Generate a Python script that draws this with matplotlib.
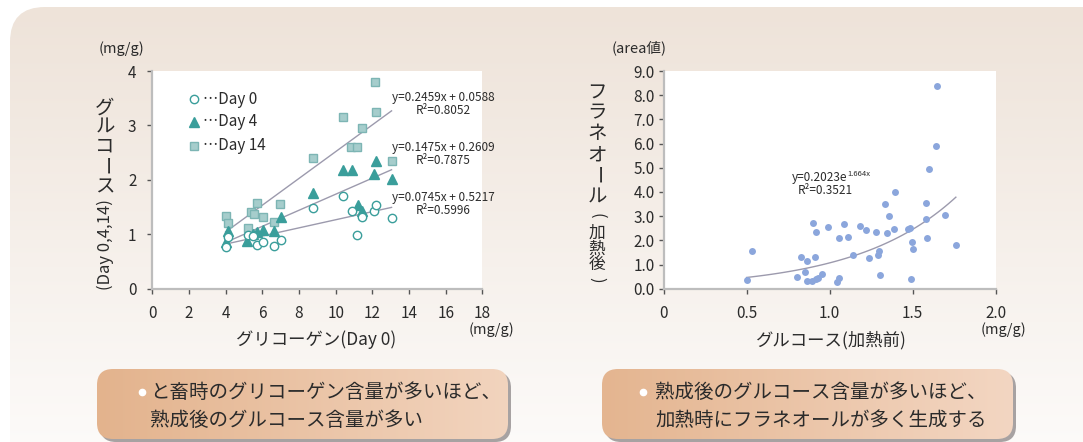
import numpy as np
import matplotlib
matplotlib.use("Agg")
import matplotlib.pyplot as plt
from matplotlib.patches import FancyBboxPatch

plt.rcParams['font.family'] = ['Noto Sans CJK JP', 'DejaVu Sans']

# グリコーゲン(Day 0) と グルコース(Day 0, 4, 14)
day0_x = [4.0, 4.15, 5.2, 5.5, 5.73, 6.05, 6.65, 7.0, 8.78, 10.38, 10.87, 11.18, 11.45, 12.11, 12.2, 13.05]
day0_y = [0.77, 0.95, 0.98, 0.96, 0.81, 0.85, 0.79, 0.90, 1.48, 1.70, 1.43, 0.99, 1.31, 1.42, 1.53, 1.30]
day4_x = [4.0, 4.15, 5.18, 5.51, 5.73, 6.05, 6.65, 7.0, 8.78, 10.38, 10.87, 11.2, 11.45, 12.11, 12.2, 13.05]
day4_y = [0.86, 1.06, 0.88, 1.0, 1.05, 1.08, 1.06, 1.32, 1.75, 2.19, 2.18, 1.53, 1.43, 2.10, 2.34, 2.02]
day14_x = [4.04, 4.15, 5.24, 5.38, 5.56, 5.73, 6.05, 6.65, 6.96, 8.78, 10.38, 10.84, 11.18, 11.45, 12.16, 12.2, 13.09]
day14_y = [1.34, 1.20, 1.12, 1.41, 1.37, 1.57, 1.32, 1.23, 1.55, 2.40, 3.15, 2.60, 2.60, 2.96, 3.80, 3.24, 2.35]

# 近似直線 (傾き, 切片, R²)
fits = [(0.2459, 0.0588, 0.8052), (0.1475, 0.2609, 0.7875), (0.0745, 0.5217, 0.5996)]

# グルコース(加熱前) と フラネオール(加熱後)
glc_x = [0.504, 0.532, 0.801, 0.827, 0.849, 0.861, 0.861, 0.894, 0.902, 0.912, 0.916, 0.920,
         0.928, 0.954, 0.992, 1.046, 1.058, 1.054, 1.088, 1.110, 1.141, 1.181, 1.217, 1.235,
         1.277, 1.289, 1.297, 1.305, 1.335, 1.347, 1.357, 1.388, 1.396, 1.472, 1.482, 1.490,
         1.496, 1.502, 1.582, 1.582, 1.584, 1.598, 1.641, 1.649, 1.697, 1.761]
fur_y = [0.34, 1.57, 0.48, 1.30, 0.70, 1.13, 0.32, 0.33, 2.70, 1.30, 0.39, 2.33,
         0.43, 0.62, 2.55, 0.28, 0.44, 2.08, 2.69, 2.14, 1.39, 2.60, 2.41, 1.28,
         2.34, 1.39, 1.54, 0.58, 3.50, 2.30, 3.00, 2.48, 4.00, 2.45, 2.52, 0.41,
         1.92, 1.63, 3.56, 2.88, 2.11, 4.96, 5.90, 8.38, 3.03, 1.79]
exp_a, exp_b, exp_r2 = 0.2023, 1.664, 0.3521

W, H = 1083, 442
fig = plt.figure(figsize=(W / 100, H / 100), dpi=100)
fig.patch.set_facecolor('white')

# 背景用の軸 (ピクセル座標)
bg = fig.add_axes([0, 0, 1, 1], zorder=-1)
bg.axis('off')


def set_px(ax):
    ax.set_xlim(0, W)
    ax.set_ylim(H, 0)


def gradient_box(ax, x0, y0, w, h, r, c0, c1, vertical=True, z=0):
    patch = FancyBboxPatch((x0, y0), w, h, boxstyle=f"round,pad=0,rounding_size={r}",
                           fc='none', ec='none', zorder=z)
    ax.add_patch(patch)
    t = np.linspace(0, 1, 256)
    c0 = np.array(matplotlib.colors.to_rgb(c0))
    c1 = np.array(matplotlib.colors.to_rgb(c1))
    grad = c0[None, :] * (1 - t[:, None]) + c1[None, :] * t[:, None]
    img = grad[:, None, :] if vertical else grad[None, :, :]
    im = ax.imshow(img, extent=(x0, x0 + w, y0 + h, y0), aspect='auto',
                   zorder=z, interpolation='bilinear')
    im.set_clip_path(patch)
    return patch


# 全体の背景パネル
gradient_box(bg, 10, 7, 1120, 520, 35, '#eee3d9', '#ffffff', vertical=True, z=0)

# 下部のまとめボックス
for bx, c0, c1 in [(97, '#e3b38d', '#f2d4be'), (602, '#e4b590', '#f3d6c2')]:
    shadow = FancyBboxPatch((bx + 3, 372), 411, 70, boxstyle="round,pad=0,rounding_size=16",
                            fc='#a7a2a2', ec='none', zorder=1)
    bg.add_patch(shadow)
    gradient_box(bg, bx, 369, 411, 70, 16, c0, c1, vertical=False, z=2)
set_px(bg)

box_txt = dict(fontsize=14, color='#2b2b2b', va='center', ha='left', zorder=5)
bg.plot([142], [392], 'o', ms=4.5, color='white', zorder=5)
bg.text(150, 393, 'と畜時のグリコーゲン含量が多いほど、', **box_txt)
bg.text(150, 420, '熟成後のグルコース含量が多い', **box_txt)
bg.plot([643], [392], 'o', ms=4.5, color='white', zorder=5)
bg.text(655, 393, '熟成後のグルコース含量が多いほど、', **box_txt)
bg.text(655, 420, '加熱時にフラネオールが多く生成する', **box_txt)

# 軸ラベル類
lab = dict(color='#2b2b2b', ha='center', va='center')
bg.text(122, 49, '(mg/g)', fontsize=10.5, **lab)
bg.text(639, 48, '(area値)', fontsize=10.5, **lab)
bg.text(316, 340, 'グリコーゲン(Day 0)', fontsize=12.5, **lab)
bg.text(491, 330, '(mg/g)', fontsize=10.5, **lab)
bg.text(831, 340, 'グルコース(加熱前)', fontsize=12.5, **lab)
bg.text(1003, 330, '(mg/g)', fontsize=10.5, **lab)

# 縦書きラベル
for ch, yy in zip('グルコース', [108, 127, 146, 167, 187]):
    bg.text(105, yy, ch, fontsize=14, rotation=-90 if ch == 'ー' else 0, **lab)
bg.text(105, 245, '(Day 0,4,14)', fontsize=12, rotation=90, **lab)

for ch, yy in zip('フラネオール', [93, 113, 134, 155, 176, 197]):
    bg.text(597, yy, ch, fontsize=14, rotation=-90 if ch == 'ー' else 0, **lab)
for ch, yy in zip('(加熱後)', [216, 233, 249, 265, 280]):
    bg.text(597, yy, ch, fontsize=12, rotation=-90 if ch in '()' else 0, **lab)


def style_axes(ax):
    ax.set_facecolor('white')
    for s in ['top', 'right']:
        ax.spines[s].set_visible(False)
    for s in ['left', 'bottom']:
        ax.spines[s].set_color('#bdbdbd')
        ax.spines[s].set_linewidth(1.6)
    ax.tick_params(direction='out', length=3.5, width=1, color='#555555',
                   labelsize=11, labelcolor='#2b2b2b')


# 左: グリコーゲン vs グルコース
ax1 = fig.add_axes([152.3 / W, 1 - 288.7 / H, 330 / W, 217.7 / H])
style_axes(ax1)
ax1.set_xlim(0, 18)
ax1.set_ylim(0, 4)
ax1.set_xticks(range(0, 19, 2))
ax1.set_yticks(range(0, 5))
ax1.tick_params(axis='y', pad=8)
ax1.tick_params(axis='x', pad=8)

teal = '#3a9e9b'
ax1.plot(day14_x, day14_y, 's', ms=6, mfc='#a6cdcc', mec='#7db5b4', mew=1, zorder=3)
ax1.plot(day4_x, day4_y, '^', ms=6.5, color=teal, mec=teal, zorder=4)
ax1.plot(day0_x, day0_y, 'o', ms=6, mfc='white', mec=teal, mew=1, zorder=5)

# 注記は背景と同じピクセル座標で、グラフの上に描く
px = dict(transform=bg.transData, clip_on=False, zorder=10)
eq = dict(fontsize=8.5, color='#2b2b2b', ha='center', va='center', **px)

xs = np.linspace(4.0, 13.05, 10)
for (m, b, r2), ytxt in zip(fits, [97, 147, 197]):
    ax1.plot(xs, m * xs + b, color='#9c9aad', lw=1, zorder=2)
    ax1.text(443, ytxt, f'y={m:.4f}x + {b:.4f}', **eq)
    ax1.text(443, ytxt + 14, f'R²={r2:.4f}', **eq)

# 凡例
for (mk, kw), name, yy in zip(
        [('o', dict(ms=6, mfc='white', mec=teal, mew=1)),
         ('^', dict(ms=6.5, color=teal)),
         ('s', dict(ms=6, mfc='#a6cdcc', mec='#7db5b4', mew=1))],
        ['Day 0', 'Day 4', 'Day 14'], [99, 122, 146]):
    ax1.plot([194], [yy], mk, **kw, **px)
    ax1.text(203, yy, '⋯' + name, fontsize=11, color='#2b2b2b', ha='left', va='center', **px)

# 右: グルコース vs フラネオール
ax2 = fig.add_axes([663.7 / W, 1 - 288.7 / H, 332 / W, 217.7 / H])
style_axes(ax2)
ax2.set_xlim(0, 2.0)
ax2.set_ylim(0, 9.0)
ax2.set_xticks([0, 0.5, 1.0, 1.5, 2.0])
ax2.set_xticklabels(['0', '0.5', '1.0', '1.5', '2.0'])
ax2.set_yticks(np.arange(0, 9.1, 1.0))
ax2.set_yticklabels([f'{v:.1f}' for v in np.arange(0, 9.1, 1.0)])
ax2.tick_params(axis='y', pad=3)
ax2.tick_params(axis='x', pad=8)

ax2.plot(glc_x, fur_y, 'o', ms=5, color='#8ba6dc', mec='none', zorder=3)
xe = np.linspace(0.5, 1.76, 60)
ax2.plot(xe, exp_a * np.exp(exp_b * xe), color='#9c9aad', lw=1, zorder=2)
ax2.text(847, 178, f'y={exp_a:.4f}e', fontsize=8.5, color='#2b2b2b', ha='right', va='center', **px)
ax2.text(847, 174, f'{exp_b:.3f}x', fontsize=5.5, color='#2b2b2b', ha='left', va='center', **px)
ax2.text(825, 191, f'R²={exp_r2:.4f}', fontsize=8.5, color='#2b2b2b', ha='center', va='center', **px)

fig.savefig('out.png', dpi=100, facecolor='white')
